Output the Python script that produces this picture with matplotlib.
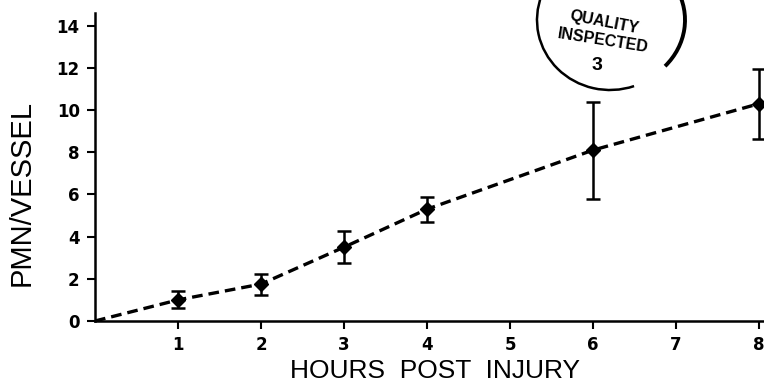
import matplotlib
matplotlib.use("Agg")
import matplotlib.pyplot as plt
from matplotlib.patches import Arc

# values
hours = [0, 1, 2, 3, 4, 6, 8]
pmn = [0.0, 1.0, 1.75, 3.5, 5.3, 8.1, 10.3]
pmn_err = [0.0, 0.4, 0.5, 0.75, 0.6, 2.3, 1.65]
x_ticks = [1, 2, 3, 4, 5, 6, 7, 8]
y_ticks = [0, 2, 4, 6, 8, 10, 12, 14]

plt.rcParams['font.family'] = ['Liberation Sans', 'DejaVu Sans']

fig = plt.figure(figsize=(7.64, 3.85), dpi=100)
ax = fig.add_axes([95 / 764, 1 - 321 / 385, 1 - 95 / 764, (321 - 13) / 385])

# dashed trend line through the means (starts at origin)
ax.plot(hours, pmn, linestyle=(0, (3.2, 1.8)), color='black', lw=2.4, zorder=2)
# means with error bars (skip the origin)
ax.errorbar(hours[1:], pmn[1:], yerr=pmn_err[1:], fmt='D', color='black',
            markersize=7.5, elinewidth=1.8, capsize=5, capthick=1.8,
            linestyle='none', zorder=3)

ax.set_xlim(0, 8.06)
ax.set_ylim(0, 14.6)
ax.set_xticks(x_ticks)
ax.set_yticks(y_ticks)
ax.tick_params(axis='both', direction='out', length=6, width=1.5, pad=5)
for lab in ax.get_xticklabels() + ax.get_yticklabels():
    lab.set_fontfamily('DejaVu Sans')
    lab.set_fontweight('bold')
    lab.set_fontsize(12)

for side in ['top', 'right']:
    ax.spines[side].set_visible(False)
for side in ['left', 'bottom']:
    ax.spines[side].set_linewidth(1.8)

fig.text(22 / 764, 1 - 193 / 385, 'PMN/VESSEL', rotation=90, fontsize=21,
         ha='center', va='center')
fig.text(435 / 764, 1 - 371 / 385, 'HOURS  POST  INJURY', fontsize=19,
         ha='center', va='center')

# the "quality inspected" stamp from the scan, in pixel coordinates
ov = fig.add_axes([0, 0, 1, 1], zorder=5)
ov.set_xlim(0, 764)
ov.set_ylim(385, 0)
ov.axis('off')
ov.patch.set_alpha(0)
ov.add_patch(Arc((610, 20), 146, 140, theta1=70, theta2=200, lw=1.8, color='black'))
ov.add_patch(Arc((610, 20), 150, 136, theta1=-25, theta2=40, lw=2.8, color='black'))
ov.text(604, 22, 'QUALITY', fontsize=11.5, fontweight='bold', rotation=-11,
        ha='center', va='center')
ov.text(603, 41, 'INSPECTED', fontsize=11.5, fontweight='bold', rotation=-9,
        ha='center', va='center')
ov.text(597, 66, '3', fontsize=14, fontweight='bold', ha='center', va='center')

fig.savefig('out.png', dpi=100)
